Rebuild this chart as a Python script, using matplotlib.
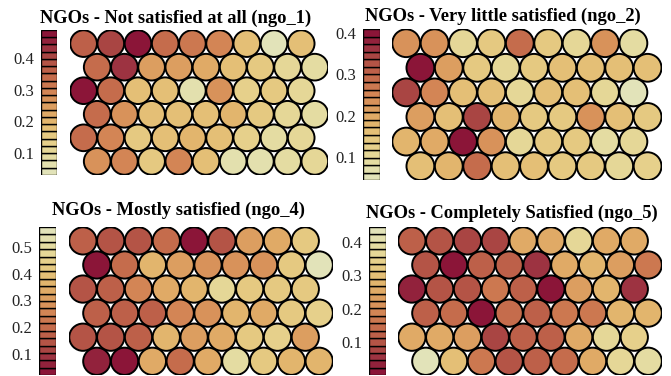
import numpy as np
import matplotlib
matplotlib.use("Agg")
import matplotlib.pyplot as plt
from matplotlib.colors import ListedColormap, Normalize
from matplotlib.patches import Circle
from matplotlib.collections import PatchCollection

plt.rcParams['font.family'] = ['Liberation Serif', 'DejaVu Serif']

W, H = 671, 376

# SOM codebook values, 6 rows (top to bottom) x 9 columns per map
ngo_1 = [
    [0.37, 0.42, 0.49, 0.35, 0.32, 0.30, 0.19, 0.03, 0.17],
    [0.34, 0.43, 0.24, 0.24, 0.22, 0.17, 0.16, 0.12, 0.08],
    [0.47, 0.34, 0.19, 0.17, 0.07, 0.27, 0.13, 0.15, 0.12],
    [0.35, 0.26, 0.18, 0.17, 0.18, 0.21, 0.15, 0.12, 0.08],
    [0.35, 0.29, 0.15, 0.17, 0.21, 0.17, 0.13, 0.09, 0.12],
    [0.27, 0.29, 0.15, 0.29, 0.17, 0.07, 0.07, 0.09, 0.11],
]
ngo_2 = [
    [0.227, 0.227, 0.099, 0.146, 0.282, 0.146, 0.110, 0.245, 0.088],
    [0.410, 0.209, 0.136, 0.099, 0.146, 0.161, 0.172, 0.161, 0.154],
    [0.337, 0.256, 0.172, 0.161, 0.099, 0.161, 0.172, 0.117, 0.044],
    [0.209, 0.172, 0.355, 0.183, 0.136, 0.146, 0.245, 0.154, 0.146],
    [0.190, 0.198, 0.392, 0.245, 0.117, 0.136, 0.146, 0.088, 0.099],
    [0.154, 0.190, 0.282, 0.161, 0.154, 0.136, 0.146, 0.099, 0.125],
]
ngo_4 = [
    [0.175, 0.142, 0.142, 0.187, 0.020, 0.142, 0.300, 0.330, 0.410],
    [0.030, 0.190, 0.360, 0.300, 0.270, 0.270, 0.290, 0.410, 0.575],
    [0.140, 0.180, 0.250, 0.330, 0.380, 0.490, 0.420, 0.420, 0.410],
    [0.180, 0.180, 0.180, 0.250, 0.290, 0.360, 0.330, 0.410, 0.440],
    [0.140, 0.140, 0.160, 0.380, 0.300, 0.340, 0.410, 0.440, 0.300],
    [0.060, 0.020, 0.330, 0.210, 0.350, 0.510, 0.410, 0.380, 0.380],
]
ngo_5 = [
    [0.125, 0.098, 0.067, 0.089, 0.245, 0.245, 0.378, 0.245, 0.245],
    [0.098, 0.000, 0.125, 0.125, 0.045, 0.245, 0.289, 0.223, 0.156],
    [0.036, 0.098, 0.098, 0.156, 0.125, 0.005, 0.223, 0.267, 0.053],
    [0.125, 0.142, 0.005, 0.142, 0.125, 0.169, 0.178, 0.289, 0.267],
    [0.245, 0.245, 0.223, 0.067, 0.125, 0.125, 0.245, 0.378, 0.356],
    [0.445, 0.310, 0.156, 0.098, 0.125, 0.134, 0.258, 0.378, 0.390],
]
titles = [
    "NGOs - Not satisfied at all (ngo_1)",
    "NGOs - Very little satisfied (ngo_2)",
    "NGOs - Mostly satisfied (ngo_4)",
    "NGOs - Completely Satisfied (ngo_5)",
]
maps = [ngo_1, ngo_2, ngo_4, ngo_5]
reverse_pal = [False, False, True, True]

# palette, light to dark
pal = ['#E2E3B9', '#E3E0AE', '#E4DCA2', '#E5D797', '#E6D08B', '#E5C981',
       '#E4BF76', '#E2B56D', '#E0AA66', '#DC9E60', '#D8925A', '#D38555',
       '#CC7850', '#C56C4C', '#BD6049', '#B45446', '#A94543', '#9D3341',
       '#92223C', '#8B1538']

# layout in pixels: map left, map top, unit size, colorbar x0, x1, title x, title y
layout = [
    (70, 30, 27.2, 41, 57, 176, 18),
    (392, 29, 28.4, 363, 380, 503, 16),
    (69, 227, 27.8, 39, 56, 178, 210),
    (398, 227, 27.8, 369, 386, 512, 213),
]

fig = plt.figure(figsize=(W / 100, H / 100), dpi=100)

nrow, ncol = 6, 9
h = np.sqrt(3) / 2
for vals, title, rev, (L, T, s, cx0, cx1, tx, ty) in zip(maps, titles, reverse_pal, layout):
    v = np.array(vals)
    colors = pal if rev else pal[::-1]
    cmap = ListedColormap(colors[::-1])
    vmin, vmax = v.min(), v.max()
    norm = Normalize(vmin, vmax)

    # hexagonal map
    wu, hu = ncol + 0.5, (nrow - 1) * h + 1
    ax = fig.add_axes([L / W, 1 - (T + hu * s) / H, wu * s / W, hu * s / H])
    patches, cvals = [], []
    for r in range(nrow):
        yy = (nrow - 1 - r) * h
        off = 0.5 if r % 2 == 1 else 0.0
        for c in range(ncol):
            patches.append(Circle((c + off, yy), 0.49))
            cvals.append(v[r, c])
    pc = PatchCollection(patches, cmap=cmap, norm=norm, edgecolor='black', linewidth=1.4)
    pc.set_array(np.array(cvals))
    ax.add_collection(pc)
    ax.set_xlim(-0.5, ncol)
    ax.set_ylim(-0.5, (nrow - 1) * h + 0.5)
    ax.axis('off')

    # stacked colour key
    cax = fig.add_axes([cx0 / W, 1 - (T + hu * s) / H, (cx1 - cx0) / W, hu * s / H])
    edges = np.linspace(vmin, vmax, len(pal) + 1)
    mids = (edges[:-1] + edges[1:]) / 2
    cax.bar(0, np.diff(edges), bottom=edges[:-1], width=1,
            color=cmap(norm(mids)), edgecolor='black', linewidth=1.0)
    cax.set_xlim(-0.5, 0.5)
    cax.set_ylim(vmin, vmax)
    for sp in cax.spines.values():
        sp.set_visible(False)
    cax.set_xticks([])
    ticks = [t for t in np.arange(0.1, 0.6, 0.1) if vmin <= t <= vmax]
    cax.set_yticks(ticks)
    cax.set_yticklabels([f"{t:.1f}" for t in ticks])
    cax.tick_params(axis='y', length=0, pad=5, labelsize=12, colors='#222222')

    fig.text(tx / W, 1 - ty / H, title, ha='center', va='center',
             fontsize=13.3, fontweight='bold')

fig.savefig("out.png", dpi=100)
